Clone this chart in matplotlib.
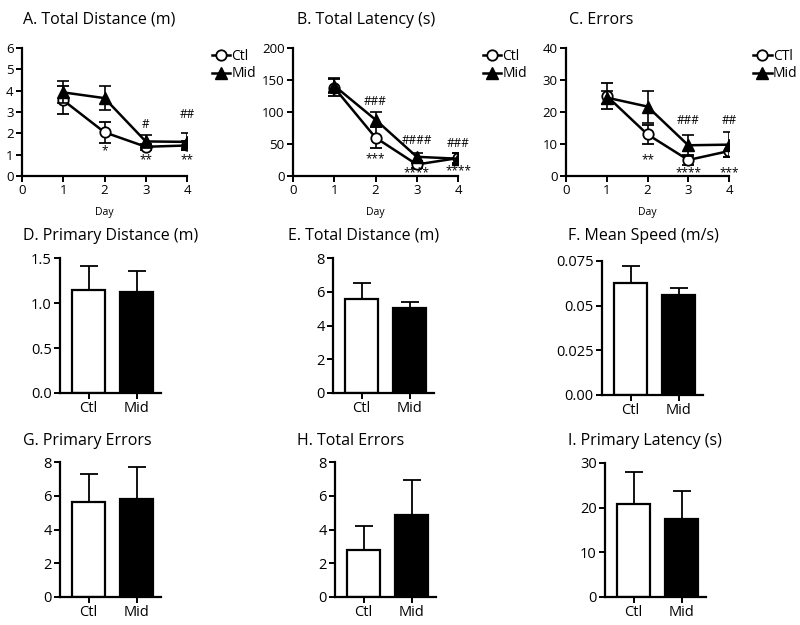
import matplotlib
matplotlib.use("Agg")
import matplotlib.pyplot as plt
from matplotlib.lines import Line2D
import matplotlib.transforms as mtransforms
import numpy as np

plt.rcParams['font.family'] = ['Open Sans', 'DejaVu Sans']

# ---------------- Data ----------------
days = [1, 2, 3, 4]

dist_ctl = [3.55, 2.05, 1.37, 1.43]
dist_ctl_err = [0.65, 0.48, 0.15, 0.2]
dist_mid = [3.92, 3.65, 1.62, 1.6]
dist_mid_err = [0.52, 0.55, 0.3, 0.4]
dist_stars = ["", "*", "**", "**"]
dist_stars_y = [0, 1.3, 0.88, 0.88]
dist_hash = ["", "", "#", "##"]
dist_hash_y = [0, 0, 2.43, 2.87]

lat_ctl = [138, 60, 18, 28]
lat_ctl_err = [13, 16, 5, 8]
lat_mid = [141, 88, 30, 27]
lat_mid_err = [12, 12, 6, 9]
lat_stars = ["", "***", "****", "****"]
lat_stars_y = [0, 32, 9.5, 12]
lat_hash = ["", "###", "####", "###"]
lat_hash_y = [0, 116, 56, 51]

err_ctl = [25, 13, 5, 7.8]
err_ctl_err = [4, 3, 1.5, 2]
err_mid = [24.5, 21.7, 9.6, 9.8]
err_mid_err = [2, 5, 3.2, 4]
err_stars = ["", "**", "****", "***"]
err_stars_y = [0, 6, 2.0, 2.0]
err_hash = ["", "", "###", "##"]
err_hash_y = [0, 0, 17.3, 17.3]

groups = ["Ctl", "Mid"]
prim_dist = [1.15, 1.12]
prim_dist_err = [0.26, 0.24]
tot_dist = [5.57, 5.03]
tot_dist_err = [0.93, 0.37]
mean_speed = [0.0627, 0.056]
mean_speed_err = [0.0097, 0.0037]
prim_errors = [5.65, 5.78]
prim_errors_err = [1.66, 1.9]
tot_errors = [2.76, 4.87]
tot_errors_err = [1.47, 2.05]
prim_lat = [20.9, 17.5]
prim_lat_err = [7.1, 6.3]

W, H = 800, 625
fig = plt.figure(figsize=(8, 6.25), dpi=100)


def rect(l, t, r, b):
    return [l / W, 1 - b / H, (r - l) / W, (b - t) / H]


def style(ax, fs):
    for s in ['top', 'right']:
        ax.spines[s].set_visible(False)
    for s in ['left', 'bottom']:
        ax.spines[s].set_linewidth(1.6)
    ax.tick_params(width=1.4, length=4, labelsize=fs, pad=2)


def line_panel(rc, title, title_x, ctl, ce, mid, me, ymax, ystep, stars, sy, hashes, hy, legend_ctl):
    ax = fig.add_axes(rect(*rc))
    style(ax, 9.5)
    ax.errorbar(days, ctl, yerr=ce, color='black', lw=1.8, marker='o', ms=7.5,
                mfc='white', mec='black', mew=1.3, capsize=4, elinewidth=1.2,
                capthick=1.2, zorder=3)
    ax.errorbar(days, mid, yerr=me, color='black', lw=1.8, marker='^', ms=8,
                mfc='black', mec='black', capsize=4, elinewidth=1.2,
                capthick=1.2, zorder=4)
    star_tr = ax.transData + mtransforms.ScaledTranslation(0, -2 / 72, fig.dpi_scale_trans)
    for d, s, y in zip(days, stars, sy):
        if s:
            ax.text(d, y, s, ha='center', va='center', fontsize=8.5,
                    transform=star_tr, zorder=5)
    for d, s, y in zip(days, hashes, hy):
        if s:
            ax.text(d, y, s, ha='center', va='center', fontsize=8.5, zorder=5)
    ax.set_xlim(0, 4)
    ax.set_ylim(0, ymax)
    ax.set_xticks([0, 1, 2, 3, 4])
    ax.set_yticks(np.arange(0, ymax + 0.001, ystep))
    ax.set_xlabel('Day', fontsize=7.5, labelpad=7)
    handles = [Line2D([], [], color='black', lw=1.8, marker='o', ms=7.5,
                      mfc='white', mec='black', mew=1.3),
               Line2D([], [], color='black', lw=1.8, marker='^', ms=8,
                      mfc='black', mec='black')]
    ax.legend(handles, [legend_ctl, 'Mid'], loc='upper left',
              bbox_to_anchor=(1.15, 0.99), frameon=False,
              fontsize=10, handlelength=1.3, handletextpad=0.1,
              labelspacing=0.15, borderaxespad=0, borderpad=0)
    fig.text(title_x / W, 1 - 20 / H, title, fontsize=11.5, ha='left', va='center')
    return ax


line_panel((22, 48, 187, 176), "A. Total Distance (m)", 23,
           dist_ctl, dist_ctl_err, dist_mid, dist_mid_err, 6, 1,
           dist_stars, dist_stars_y, dist_hash, dist_hash_y, 'Ctl')
line_panel((293, 48, 458, 176), "B. Total Latency (s)", 297,
           lat_ctl, lat_ctl_err, lat_mid, lat_mid_err, 200, 50,
           lat_stars, lat_stars_y, lat_hash, lat_hash_y, 'Ctl')
line_panel((566, 48, 729, 176), "C. Errors", 569,
           err_ctl, err_ctl_err, err_mid, err_mid_err, 40, 10,
           err_stars, err_stars_y, err_hash, err_hash_y, 'CTl')


def bar_panel(rc, title, title_x, title_y, vals, errs, yticks, ylabels):
    ax = fig.add_axes(rect(*rc))
    style(ax, 10.5)
    x = np.arange(len(groups))
    ax.bar(x, vals, width=0.69, color=['white', 'black'], edgecolor='black',
           linewidth=1.6, zorder=2)
    ax.errorbar(x, vals, yerr=[[0] * len(errs), errs], fmt='none', ecolor='black',
                elinewidth=1.3, capsize=6.5, capthick=1.3, zorder=1)
    ax.set_xlim(-0.594, 1.51)
    ax.set_ylim(0, yticks[-1])
    ax.set_xticks(x)
    ax.set_xticklabels(groups, fontsize=10.5)
    ax.set_yticks(yticks)
    ax.set_yticklabels(ylabels)
    fig.text(title_x / W, 1 - title_y / H, title, fontsize=11.5, ha='left', va='center')
    return ax


bar_panel((60, 258, 161, 393), "D. Primary Distance (m)", 23, 236,
          prim_dist, prim_dist_err, [0, 0.5, 1.0, 1.5], ["0.0", "0.5", "1.0", "1.5"])
bar_panel((333, 258, 434, 393), "E. Total Distance (m)", 288, 236,
          tot_dist, tot_dist_err, [0, 2, 4, 6, 8], ["0", "2", "4", "6", "8"])
bar_panel((602, 261, 703, 395), "F. Mean Speed (m/s)", 568, 236,
          mean_speed, mean_speed_err, [0, 0.025, 0.05, 0.075],
          ["0.00", "0.025", "0.05", "0.075"])
bar_panel((60, 462, 161, 597), "G. Primary Errors", 23, 441,
          prim_errors, prim_errors_err, [0, 2, 4, 6, 8], ["0", "2", "4", "6", "8"])
bar_panel((335, 462, 436, 597), "H. Total Errors", 297, 441,
          tot_errors, tot_errors_err, [0, 2, 4, 6, 8], ["0", "2", "4", "6", "8"])
bar_panel((605, 463, 706, 597), "I. Primary Latency (s)", 568, 441,
          prim_lat, prim_lat_err, [0, 10, 20, 30], ["0", "10", "20", "30"])

fig.savefig('out.png', dpi=100)
